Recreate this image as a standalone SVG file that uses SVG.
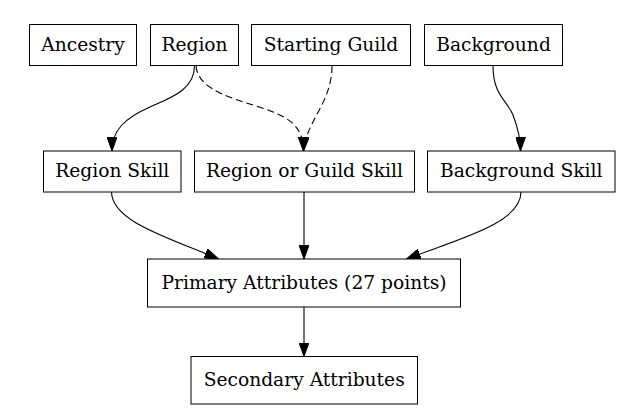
<svg xmlns="http://www.w3.org/2000/svg" width="644" height="411" viewBox="0 0 644 411">
<style>
  .box { fill: #ffffff; stroke: #000000; stroke-width: 1; }
  .lbl { font-family: "DejaVu Serif", serif; font-size: 18.67px; fill: #000000; text-anchor: middle; }
  .edge { fill: none; stroke: #000000; stroke-width: 1.1; }
  .dash { stroke-dasharray: 7,4; }
</style>
<defs>
  <marker id="arr" markerUnits="userSpaceOnUse" markerWidth="14" markerHeight="10" refX="14" refY="5" orient="auto">
    <path d="M0,0 L14,5 L0,10 Z" fill="#000000" stroke="#000000" stroke-width="1" stroke-dasharray="none"/>
  </marker>
</defs>
<rect width="644" height="411" fill="#ffffff"/>
<g id="connectors">
  <path class="edge" d="M194.5,66 C194.5,90 170,98 150,107 C125,118 112,130 112,151" marker-end="url(#arr)"/>
  <path class="edge dash" d="M196,66 C198,92 240,100 268,110 C292,119 303,128 303.5,151" marker-end="url(#arr)"/>
  <path class="edge dash" d="M332,66 C332,88 322,105 315,118 C309,130 304,140 303.5,151" marker-end="url(#arr)"/>
  <path class="edge" d="M493,66 C493,95 507,100 513,115 C518,128 520.5,138 520.5,151" marker-end="url(#arr)"/>
  <path class="edge" d="M111.5,192 C112,222 170,238 218.5,259" marker-end="url(#arr)"/>
  <path class="edge" d="M304,192 L304,259" marker-end="url(#arr)"/>
  <path class="edge" d="M521,192 C521,224 455,240 406.5,259" marker-end="url(#arr)"/>
  <path class="edge" d="M304,307 L304,356.5" marker-end="url(#arr)"/>
</g>
<g id="ancestry"><rect class="box" x="29.5" y="24.5" width="107" height="41"/><text class="lbl" x="83" y="50.5">Ancestry</text></g>
<g id="region"><rect class="box" x="150.5" y="24.5" width="88" height="41"/><text class="lbl" x="194.5" y="50.5">Region</text></g>
<g id="starting_guild"><rect class="box" x="251.5" y="24.5" width="159" height="41"/><text class="lbl" x="331" y="50.5">Starting Guild</text></g>
<g id="background"><rect class="box" x="424.5" y="24.5" width="138" height="41"/><text class="lbl" x="493.5" y="50.5">Background</text></g>
<g id="region_skill"><rect class="box" x="43.5" y="151" width="137.5" height="41"/><text class="lbl" x="112.25" y="177">Region Skill</text></g>
<g id="region_or_guild_skill"><rect class="box" x="194.5" y="151" width="220" height="41"/><text class="lbl" x="304.5" y="177">Region or Guild Skill</text></g>
<g id="background_skill"><rect class="box" x="427.5" y="151" width="187.5" height="41"/><text class="lbl" x="521.25" y="177">Background Skill</text></g>
<g id="primary_attributes"><rect class="box" x="147.5" y="259" width="313" height="48"/><text class="lbl" x="304" y="288.5">Primary Attributes (27 points)</text></g>
<g id="secondary_attributes"><rect class="box" x="191" y="356.5" width="226.5" height="47.5"/><text class="lbl" x="304.2" y="386">Secondary Attributes</text></g>
</svg>
